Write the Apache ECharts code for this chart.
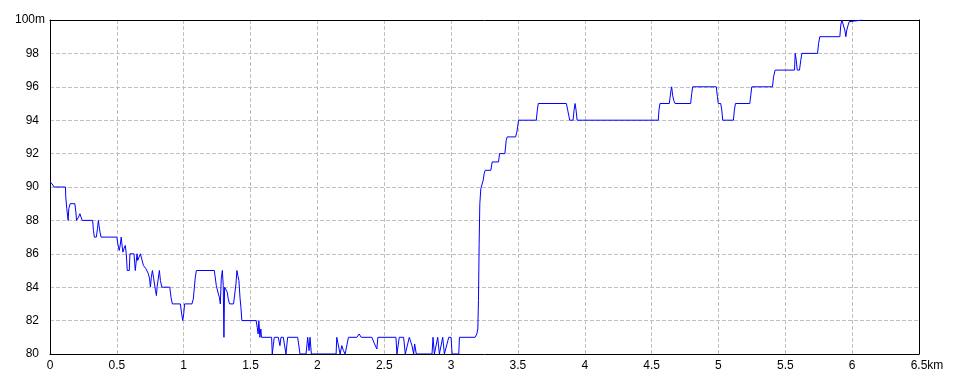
<!DOCTYPE html>
<html>
<head>
<meta charset="utf-8">
<script src="https://cdn.jsdelivr.net/npm/echarts@6/dist/echarts.min.js"></script>
<style>html,body{margin:0;padding:0;background:#fff}#c{width:960px;height:384px}</style>
</head>
<body>
<div id="c"></div>
<script>
var distanceKm = [
0,0.005,0.015,0.03,0.1156,0.118,0.1256,0.1357,0.1407,0.1508,0.186,0.1935,0.1985,0.206,0.2136,0.2236,0.232,0.2412,0.319,0.325,0.3317,0.3467,0.355,0.3618,0.3668,0.374,0.3819,0.5,0.5075,0.5176,0.525,0.5327,0.5377,0.5452,0.5528,0.5628,0.5704,0.5779,0.593,0.598,0.628,0.633,0.638,0.643,0.651,0.656,0.663,0.668,0.676,0.686,0.699,0.718,0.736,0.745,0.751,0.758,0.766,0.776,0.789,0.796,0.801,0.818,0.826,0.836,0.896,0.905,0.915,0.975,0.985,0.993,1.0,1.007,1.062,1.072,1.08,1.087,1.095,1.229,1.244,1.259,1.267,1.274,1.281,1.289,1.296,1.301,1.306,1.318,1.326,1.333,1.343,1.373,1.391,1.398,1.405,1.413,1.421,1.428,1.435,1.542,1.55,1.557,1.562,1.57,1.577,1.582,1.6575,1.6625,1.6775,1.7075,1.72,1.7275,1.745,1.765,1.7775,1.8525,1.87,1.915,1.9275,1.9375,1.945,1.955,2.14,2.145,2.1575,2.17,2.1825,2.195,2.2075,2.22,2.2325,2.295,2.3125,2.3275,2.4075,2.4275,2.445,2.4525,2.5875,2.595,2.6125,2.645,2.6575,2.6875,2.7075,2.72,2.7275,2.74,2.8575,2.865,2.875,2.9,2.9125,2.9375,2.95,2.9825,3.0,3.0075,3.0575,3.0625,3.18,3.1925,3.2,3.205,3.21,3.215,3.2225,3.2325,3.24,3.2475,3.255,3.2975,3.3075,3.355,3.3625,3.4025,3.4125,3.42,3.4825,3.4925,3.505,3.6375,3.645,3.6525,3.8625,3.875,3.8875,3.9125,3.92,3.9275,3.935,3.9425,4.55,4.555,4.5625,4.6325,4.637,4.645,4.65,4.657,4.665,4.675,4.792,4.8,4.807,4.984,4.992,4.999,5.017,5.025,5.032,5.112,5.119,5.127,5.234,5.242,5.249,5.404,5.412,5.424,5.569,5.574,5.582,5.589,5.606,5.616,5.624,5.741,5.749,5.758,5.908,5.915,5.923,5.935,5.945,5.953,5.96,5.97,5.978,5.986,6.078
];
var elevationM = [
90.3,90.3,90.2,90,90,89.4,88.7,88,88.7,89,89,88.5,88,88,88.2,88.4,88.2,88,88,87.4,87,87,87.5,88,87.7,87.3,87,87,86.6,86.2,86.5,87,86.6,86.1,86.3,86.5,86,85,85,86,86,85.5,85,85.4,86,85.6,85.7,85.6,86,85.9,85.3,85.1,84.8,84.5,84,84.6,85,84.5,83.8,83.5,84,85,84.4,84,84,83.4,83,83,82.4,82,82.4,83,83,83.3,84,84.6,85,85,84.1,83.6,83.4,83,84.5,85,84.1,81,84,84,83.7,83.3,83,83,84.2,85,84.7,84.4,83.4,82.8,82,82,81.6,81.2,82,81,81.5,81,81,80,81,81,80.5,81,81,80,81,81,80,80,81,80.2,81,80,80,81,81,80,80.5,80.2,80,80,81,81,81.2,81,81,80.6,80.3,81,81,80,81,81,80,81,80.5,80,80.6,80,80,81,80,81,80,81,80,81,81,80,80,81,81,81.2,81.5,83.2,86.6,89,89.9,90,90.4,90.8,91,91,91.5,91.5,92,92,92.8,93,93,93.3,94,94,94.6,95,95,94.5,94,94,94.6,95,94.6,94,94,94.6,95,95,95.3,95.8,96,95.5,95.2,95,95,95.6,96,96,95.4,95,95,94.6,94,94,94.6,95,95,95.5,96,96,96.6,97,97,98,97.6,97,97,97.6,98,98,98.6,99,99,99.7,100,100,99.4,99,99.4,99.7,99.9,100,100
];
var xTicksLast = '6.5';
var xUnit = 'km';
var yTicksLast = '100';
var yUnit = 'm';

var points = distanceKm.map(function (d, i) { return [d, elevationM[i]]; });
var font = 'Liberation Sans';
var chart = echarts.init(document.getElementById('c'), null, {renderer: 'canvas'});
chart.setOption({
  animation: false,
  backgroundColor: '#fff',
  grid: {left: 50, right: 41, top: 20, bottom: 30, containLabel: false},
  xAxis: [{
    type: 'value', position: 'bottom', min: 0, max: 6.5, interval: 0.5, z: 5,
    axisLine: {show: true, onZero: false, lineStyle: {color: '#000', width: 1}},
    axisTick: {show: false},
    splitLine: {show: false},
    axisLabel: {
      margin: 6, color: '#000', fontFamily: font, fontSize: 12,
      formatter: function (v) {
        var s = String(Math.round(v * 10) / 10);
        if (s === xTicksLast) return '{p|}{n|' + s + '}{u|' + xUnit + '}';
        return '{n|' + s + '}';
      },
      rich: {
        n: {fontFamily: font, fontSize: 12, color: '#000'},
        u: {fontFamily: font, fontSize: 12, color: '#000'},
        p: {width: 16}
      }
    }
  }, {
    type: 'value', position: 'top', min: 0, max: 6.5, interval: 0.5, z: 0,
    axisLine: {show: true, onZero: false, lineStyle: {color: '#000', width: 1}},
    axisTick: {show: false}, axisLabel: {show: false},
    splitLine: {show: true, showMinLine: false, showMaxLine: false, lineStyle: {color: '#c0c0c0', type: [4, 2], width: 1}}
  }],
  yAxis: [{
    type: 'value', position: 'left', min: 80, max: 100, interval: 2, z: 0,
    axisLine: {show: true, onZero: false, lineStyle: {color: '#000', width: 1}},
    axisTick: {show: false},
    splitLine: {show: true, showMinLine: false, showMaxLine: false, lineStyle: {color: '#c0c0c0', type: [4, 2], width: 1}},
    axisLabel: {
      margin: 5, color: '#000', fontFamily: font, fontSize: 12,
      formatter: function (v) {
        var s = String(v);
        if (s === yTicksLast) return '{n|' + s + '}{u|' + yUnit + '}';
        return '{n|' + s + '}{s| }';
      },
      rich: {
        n: {fontFamily: font, fontSize: 12, color: '#000'},
        u: {fontFamily: font, fontSize: 12, color: '#000'},
        s: {width: 6}
      }
    }
  }, {
    type: 'value', position: 'right', min: 80, max: 100, interval: 2, z: 0,
    axisLine: {show: true, onZero: false, lineStyle: {color: '#000', width: 1}},
    axisTick: {show: false}, axisLabel: {show: false}, splitLine: {show: false}
  }],
  series: [{
    type: 'line', xAxisIndex: 0, yAxisIndex: 0, data: points,
    showSymbol: false, symbol: 'none', z: 2,
    lineStyle: {color: '#0000ff', width: 1},
    clip: true
  }]
});
</script>
</body>
</html>
